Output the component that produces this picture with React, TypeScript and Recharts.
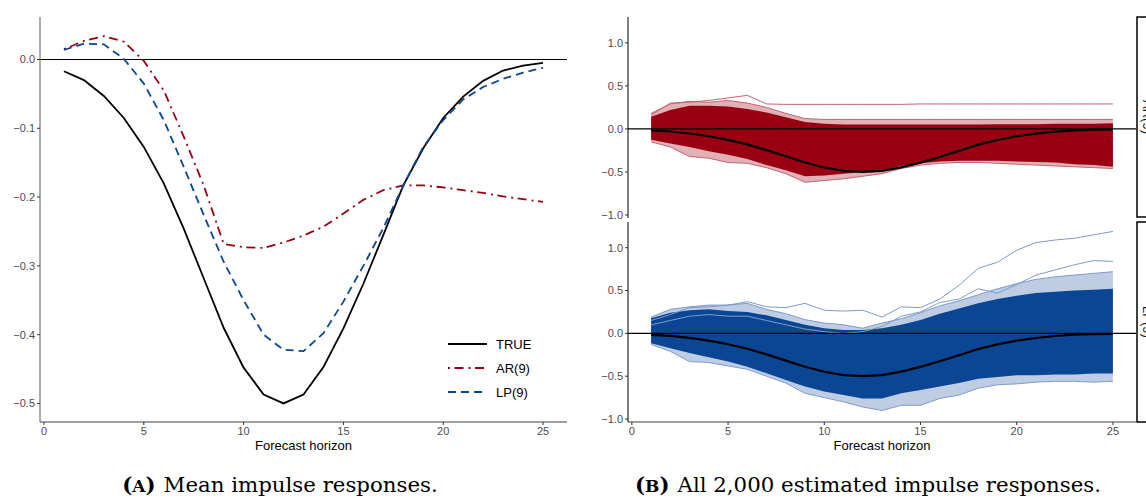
import React from 'react';
import { ComposedChart, Line, Area, XAxis, YAxis, ReferenceLine, Legend } from 'recharts';

// ---------- data ----------
const horizons = [1, 2, 3, 4, 5, 6, 7, 8, 9, 10, 11, 12, 13, 14, 15, 16, 17, 18, 19, 20, 21, 22, 23, 24, 25];

const trueIrf = [-0.017, -0.030, -0.053, -0.085, -0.127, -0.180, -0.246, -0.318, -0.390, -0.448, -0.487, -0.500, -0.487, -0.447, -0.391, -0.326, -0.255, -0.183, -0.129, -0.085, -0.054, -0.031, -0.016, -0.009, -0.005];
const arMean = [0.015, 0.027, 0.034, 0.026, -0.002, -0.045, -0.112, -0.183, -0.268, -0.273, -0.274, -0.266, -0.256, -0.243, -0.224, -0.204, -0.190, -0.183, -0.183, -0.186, -0.190, -0.194, -0.199, -0.203, -0.207];
const lpMean = [0.014, 0.023, 0.022, 0.001, -0.035, -0.088, -0.156, -0.226, -0.294, -0.350, -0.400, -0.422, -0.424, -0.398, -0.352, -0.300, -0.245, -0.183, -0.127, -0.088, -0.058, -0.040, -0.028, -0.019, -0.012];

// AR(9) estimates: dense core, lighter outer envelope, single outlier path
const arDenseLo = [-0.125, -0.17, -0.21, -0.26, -0.30, -0.35, -0.42, -0.48, -0.55, -0.54, -0.52, -0.50, -0.48, -0.43, -0.40, -0.38, -0.37, -0.37, -0.37, -0.38, -0.385, -0.39, -0.41, -0.42, -0.44];
const arDenseHi = [0.14, 0.22, 0.27, 0.27, 0.26, 0.23, 0.19, 0.135, 0.08, 0.06, 0.05, 0.05, 0.05, 0.05, 0.05, 0.05, 0.05, 0.05, 0.055, 0.055, 0.055, 0.06, 0.06, 0.06, 0.065];
const arOuterLo = [-0.15, -0.21, -0.32, -0.34, -0.39, -0.40, -0.45, -0.52, -0.62, -0.60, -0.58, -0.55, -0.52, -0.46, -0.42, -0.40, -0.39, -0.39, -0.40, -0.41, -0.42, -0.43, -0.44, -0.45, -0.46];
const arOuterHi = [0.18, 0.29, 0.32, 0.31, 0.33, 0.30, 0.25, 0.18, 0.12, 0.11, 0.11, 0.11, 0.11, 0.11, 0.11, 0.11, 0.11, 0.11, 0.11, 0.11, 0.11, 0.11, 0.11, 0.11, 0.11];
const arOutlier = [0.16, 0.30, 0.31, 0.33, 0.36, 0.39, 0.29, 0.285, 0.285, 0.285, 0.285, 0.285, 0.285, 0.285, 0.29, 0.29, 0.29, 0.29, 0.29, 0.29, 0.29, 0.29, 0.29, 0.29, 0.29];

// LP(9) estimates
const lpDenseLo = [-0.117, -0.175, -0.23, -0.28, -0.33, -0.39, -0.466, -0.544, -0.62, -0.68, -0.72, -0.76, -0.76, -0.70, -0.66, -0.62, -0.58, -0.53, -0.51, -0.49, -0.49, -0.48, -0.48, -0.47, -0.47];
const lpDenseHi = [0.175, 0.24, 0.27, 0.28, 0.26, 0.25, 0.21, 0.155, 0.10, 0.06, 0.04, 0.04, 0.06, 0.10, 0.155, 0.23, 0.29, 0.35, 0.40, 0.44, 0.47, 0.485, 0.50, 0.51, 0.52];
const lpOuterLo = [-0.13, -0.21, -0.33, -0.34, -0.38, -0.42, -0.50, -0.58, -0.70, -0.75, -0.80, -0.86, -0.90, -0.84, -0.84, -0.76, -0.72, -0.64, -0.60, -0.59, -0.57, -0.56, -0.56, -0.57, -0.56];
const lpOuterHi = [0.19, 0.28, 0.31, 0.33, 0.33, 0.35, 0.28, 0.23, 0.16, 0.12, 0.10, 0.06, 0.12, 0.17, 0.24, 0.32, 0.38, 0.45, 0.52, 0.58, 0.63, 0.66, 0.68, 0.70, 0.72];
const lpOutlierA = [0.15, 0.22, 0.30, 0.31, 0.33, 0.37, 0.31, 0.30, 0.35, 0.27, 0.26, 0.27, 0.19, 0.31, 0.30, 0.40, 0.56, 0.76, 0.83, 0.97, 1.06, 1.09, 1.11, 1.15, 1.19];
const lpOutlierB = [0.10, 0.15, 0.20, 0.22, 0.20, 0.20, 0.15, 0.10, 0.05, 0.02, 0.00, 0.02, 0.08, 0.20, 0.25, 0.36, 0.40, 0.52, 0.47, 0.57, 0.68, 0.74, 0.80, 0.85, 0.84];

const xTicks = [0, 5, 10, 15, 20, 25];
const leftYTicks = [-0.5, -0.4, -0.3, -0.2, -0.1, 0];
const rightYTicks = [-1, -0.5, 0, 0.5, 1];

const legendNames = ['TRUE', 'AR(9)', 'LP(9)'];
const facetNames = ['AR(9)', 'LP(9)'];

// ---------- styles ----------
const RED = '#990011';
const BLUE = '#0b4694';
const RED_LIGHT = '#c4646f';
const BLUE_LIGHT = '#7d9bc9';
const FONT = 'Liberation Sans, Arial, sans-serif';
const legendColors = ['#000000', RED, BLUE];
const legendDash = [undefined, '2 4.5 9 5', '8 5'];

const fmt = (v: number) => (v < 0 ? '\u2212' : '') + Math.abs(v).toFixed(1);
const tickStyle = { fill: '#4d4d4d', fontSize: 11, fontFamily: FONT };

const leftData = horizons.map((h, i) => ({ h, tru: trueIrf[i], ar: arMean[i], lp: lpMean[i] }));
const arData = horizons.map((h, i) => ({
  h,
  tru: trueIrf[i],
  outer: [arOuterLo[i], arOuterHi[i]],
  dense: [arDenseLo[i], arDenseHi[i]],
  o1: arOutlier[i],
}));
const lpData = horizons.map((h, i) => ({
  h,
  tru: trueIrf[i],
  outer: [lpOuterLo[i], lpOuterHi[i]],
  dense: [lpDenseLo[i], lpDenseHi[i]],
  o1: lpOutlierA[i],
  o2: lpOutlierB[i],
}));

const LegendBox = () => (
  <div style={{ fontFamily: FONT, fontSize: 13, color: '#000' }}>
    {legendNames.map((n, i) => (
      <div key={n} style={{ display: 'flex', alignItems: 'center', height: 24 }}>
        <svg width={50} height={24} style={{ display: 'block' }}>
          <line x1={2} y1={12} x2={41} y2={12} stroke={legendColors[i]} strokeWidth={1.8} strokeDasharray={legendDash[i]} />
        </svg>
        <span>{n}</span>
      </div>
    ))}
  </div>
);

const Facet = ({ data, color, light, showX, extra }: any) => (
  <ComposedChart
    width={566}
    height={showX ? 270 : 222}
    data={data}
    margin={showX ? { top: 22, right: 10, bottom: 18, left: 8 } : { top: 17, right: 10, bottom: 4, left: 8 }}
  >
    <XAxis
      dataKey="h"
      type="number"
      domain={[-0.2, 26.2]}
      ticks={xTicks}
      allowDataOverflow
      hide={!showX}
      height={30}
      tickSize={3}
      tick={tickStyle}
      tickLine={{ stroke: '#333' }}
      axisLine={{ stroke: '#7f7f7f', strokeWidth: 1.3 }}
      label={showX ? { value: 'Forecast horizon', position: 'insideBottom', offset: 2, fill: '#000', fontSize: 13, fontFamily: FONT } : undefined}
    />
    <YAxis
      type="number"
      domain={[-1.035, 1.3]}
      ticks={rightYTicks}
      allowDataOverflow
      width={40}
      tickSize={3}
      tick={tickStyle}
      tickFormatter={fmt}
      tickLine={{ stroke: '#333' }}
      axisLine={{ stroke: '#000', strokeWidth: 1 }}
    />
    <Area dataKey="outer" type="linear" fill={light} fillOpacity={0.5} stroke={light} strokeWidth={1} isAnimationActive={false} />
    <Area dataKey="dense" type="linear" fill={color} fillOpacity={1} stroke="none" isAnimationActive={false} />
    <Line dataKey="o1" type="linear" stroke={light} strokeWidth={1} dot={false} isAnimationActive={false} />
    {extra ? <Line dataKey="o2" type="linear" stroke={light} strokeWidth={1} dot={false} isAnimationActive={false} /> : null}
    <ReferenceLine y={0} stroke="#000" strokeWidth={1.2} />
    <Line dataKey="tru" type="linear" stroke="#000" strokeWidth={2.2} dot={false} isAnimationActive={false} />
  </ComposedChart>
);

export default function App() {
  return (
    <div style={{ position: 'absolute', left: 0, top: 0, width: 1146, height: 498, background: '#fff', overflow: 'hidden' }}>
      {/* Panel A */}
      <div style={{ position: 'absolute', left: 0, top: 0 }}>
        <ComposedChart width={600} height={470} data={leftData} margin={{ top: 17, right: 33, bottom: 18, left: 10 }}>
          <XAxis
            dataKey="h"
            type="number"
            domain={[-0.2, 26.2]}
            ticks={xTicks}
            allowDataOverflow
            height={30}
            tickSize={3}
            tick={tickStyle}
            tickLine={{ stroke: '#333' }}
            axisLine={{ stroke: '#7f7f7f', strokeWidth: 1.3 }}
            label={{ value: 'Forecast horizon', position: 'insideBottom', offset: 2, fill: '#000', fontSize: 13, fontFamily: FONT }}
          />
          <YAxis
            type="number"
            domain={[-0.527, 0.0618]}
            ticks={leftYTicks}
            allowDataOverflow
            width={30}
            tickSize={3}
            tick={tickStyle}
            tickFormatter={fmt}
            tickLine={{ stroke: '#333' }}
            axisLine={{ stroke: '#7f7f7f', strokeWidth: 1.3 }}
          />
          <ReferenceLine y={0} stroke="#000" strokeWidth={1.1} />
          <Line dataKey="tru" name="TRUE" type="linear" stroke="#000" strokeWidth={1.8} dot={false} isAnimationActive={false} />
          <Line dataKey="ar" name="AR(9)" type="linear" stroke={RED} strokeWidth={1.8} strokeDasharray="2 4.5 9 5" dot={false} isAnimationActive={false} />
          <Line dataKey="lp" name="LP(9)" type="linear" stroke={BLUE} strokeWidth={1.8} strokeDasharray="8 5" dot={false} isAnimationActive={false} />
          <Legend
            layout="vertical"
            align="center"
            verticalAlign="middle"
            content={<LegendBox />}
            wrapperStyle={{ left: 446, top: 332, width: 110, height: 72, margin: 0 }}
          />
        </ComposedChart>
      </div>

      {/* Panel B */}
      <div style={{ position: 'absolute', left: 580, top: 0 }}>
        <Facet data={arData} color={RED} light={RED_LIGHT} showX={false} extra={false} />
      </div>
      <div style={{ position: 'absolute', left: 580, top: 200 }}>
        <Facet data={lpData} color={BLUE} light={BLUE_LIGHT} showX={true} extra={true} />
      </div>

      {/* strips and captions */}
      <svg width={1146} height={498} style={{ position: 'absolute', left: 0, top: 0, pointerEvents: 'none' }}>
        <rect x={1137} y={17} width={30} height={200} fill="#fff" stroke="#000" strokeWidth={1.5} />
        <rect x={1137} y={222} width={30} height={200} fill="#fff" stroke="#000" strokeWidth={1.5} />
        <text x={1147} y={117} transform="rotate(90 1147 117)" textAnchor="middle" dominantBaseline="central" fontFamily={FONT} fontSize={13} fill="#1a1a1a">{facetNames[0]}</text>
        <text x={1147} y={322} transform="rotate(90 1147 322)" textAnchor="middle" dominantBaseline="central" fontFamily={FONT} fontSize={13} fill="#1a1a1a">{facetNames[1]}</text>
        <text x={280} y={492} textAnchor="middle" fontFamily="DejaVu Serif, serif" fontSize={21.3} fill="#000">
          <tspan fontWeight="bold">(</tspan>
          <tspan fontWeight="bold" fontSize={17}>A</tspan>
          <tspan fontWeight="bold">)</tspan>
          <tspan dx={8}>Mean impulse responses.</tspan>
        </text>
        <text x={868} y={492} textAnchor="middle" fontFamily="DejaVu Serif, serif" fontSize={21.3} fill="#000">
          <tspan fontWeight="bold">(</tspan>
          <tspan fontWeight="bold" fontSize={17}>B</tspan>
          <tspan fontWeight="bold">)</tspan>
          <tspan dx={8}>All 2,000 estimated impulse responses.</tspan>
        </text>
      </svg>
    </div>
  );
}
